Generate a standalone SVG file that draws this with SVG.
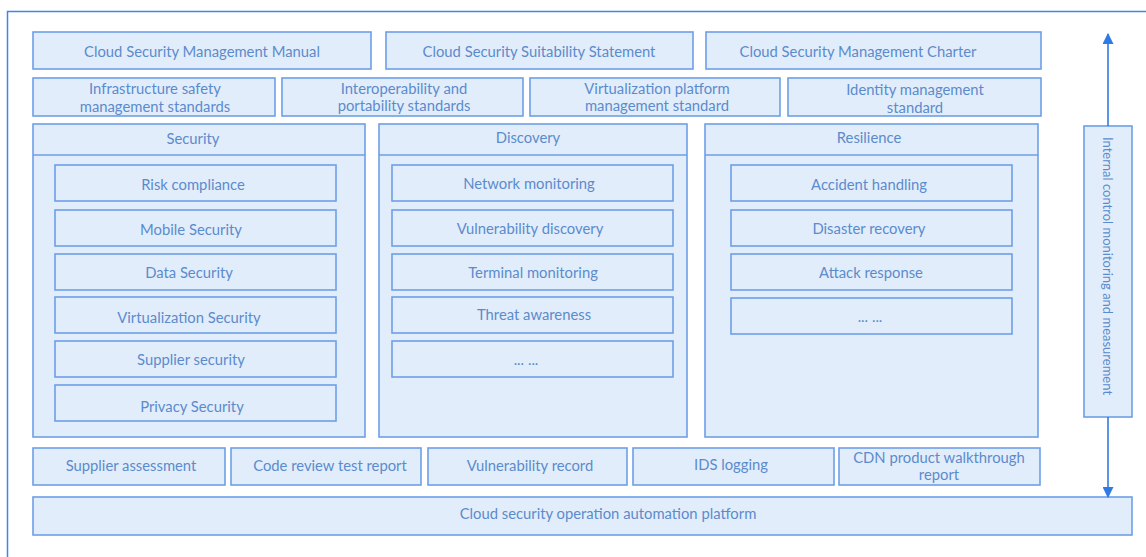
<svg xmlns="http://www.w3.org/2000/svg" width="1146" height="557" viewBox="0 0 1146 557">
<style>
.b{fill:#e2edfb;stroke:#6d9fe6;stroke-width:1.6}
.t{font-family:Lato,"Open Sans",sans-serif;font-size:14.8px;fill:#5b8bcc;text-anchor:middle;dominant-baseline:central}
.c{stroke:#2f7be6;stroke-width:1.6;fill:none}
</style>
<defs>
<marker id="ah" viewBox="0 0 10 10" refX="9" refY="5" markerWidth="11" markerHeight="11" markerUnits="userSpaceOnUse" orient="auto"><path d="M0,0 L10,5 L0,10 z" fill="#2f7be6"/></marker>
</defs>
<rect width="1146" height="557" fill="#ffffff"/>
<path d="M7.5,560 V11.5 H1150" fill="none" stroke="#3f86e6" stroke-width="1.5"/>

<g id="manual"><rect class="b" x="33" y="32" width="338" height="37"/><text class="t" x="202" y="51">Cloud Security Management Manual</text></g>
<g id="statement"><rect class="b" x="386" y="32" width="307" height="37"/><text class="t" x="539" y="51">Cloud Security Suitability Statement</text></g>
<g id="charter"><rect class="b" x="706" y="32" width="335" height="37"/><text class="t" x="858" y="51">Cloud Security Management Charter</text></g>

<g id="infra"><rect class="b" x="33" y="78" width="242" height="38"/><text class="t" x="155" y="88">Infrastructure safety</text><text class="t" x="155" y="106">management standards</text></g>
<g id="interop"><rect class="b" x="282" y="78" width="241" height="38"/><text class="t" x="404" y="88">Interoperability and</text><text class="t" x="404" y="105">portability standards</text></g>
<g id="virtstd"><rect class="b" x="530" y="78" width="250" height="38"/><text class="t" x="657" y="88">Virtualization platform</text><text class="t" x="657" y="105">management standard</text></g>
<g id="identity"><rect class="b" x="788" y="78" width="253" height="38"/><text class="t" x="915" y="89">Identity management</text><text class="t" x="915" y="107">standard</text></g>

<g id="security"><rect class="b" x="33" y="124" width="332" height="313"/><line x1="33" y1="155" x2="365" y2="155" stroke="#6d9fe6" stroke-width="1.6"/><text class="t" x="193" y="138">Security</text></g>
<g id="sec-risk"><rect class="b" x="55" y="165" width="281" height="36"/><text class="t" x="193" y="184">Risk compliance</text></g>
<g id="sec-mobile"><rect class="b" x="55" y="210" width="281" height="36"/><text class="t" x="191" y="229">Mobile Security</text></g>
<g id="sec-data"><rect class="b" x="55" y="254" width="281" height="36"/><text class="t" x="189" y="272">Data Security</text></g>
<g id="sec-virt"><rect class="b" x="55" y="297" width="281" height="36"/><text class="t" x="189" y="317">Virtualization Security</text></g>
<g id="sec-supp"><rect class="b" x="55" y="341" width="281" height="36"/><text class="t" x="191" y="359">Supplier security</text></g>
<g id="sec-priv"><rect class="b" x="55" y="385" width="281" height="36"/><text class="t" x="192" y="406">Privacy Security</text></g>

<g id="discovery"><rect class="b" x="379" y="124" width="308" height="313"/><line x1="379" y1="155" x2="687" y2="155" stroke="#6d9fe6" stroke-width="1.6"/><text class="t" x="528" y="137">Discovery</text></g>
<g id="dis-net"><rect class="b" x="392" y="165" width="281" height="36"/><text class="t" x="529" y="183">Network monitoring</text></g>
<g id="dis-vuln"><rect class="b" x="392" y="210" width="281" height="36"/><text class="t" x="530" y="228">Vulnerability discovery</text></g>
<g id="dis-term"><rect class="b" x="392" y="254" width="281" height="36"/><text class="t" x="533" y="272">Terminal monitoring</text></g>
<g id="dis-threat"><rect class="b" x="392" y="297" width="281" height="36"/><text class="t" x="534" y="314">Threat awareness</text></g>
<g id="dis-more"><rect class="b" x="392" y="341" width="281" height="36"/><text class="t" x="526" y="359">... ...</text></g>

<g id="resilience"><rect class="b" x="705" y="124" width="333" height="313"/><line x1="705" y1="155" x2="1038" y2="155" stroke="#6d9fe6" stroke-width="1.6"/><text class="t" x="869" y="137">Resilience</text></g>
<g id="res-acc"><rect class="b" x="731" y="165" width="281" height="36"/><text class="t" x="869" y="184">Accident handling</text></g>
<g id="res-dis"><rect class="b" x="731" y="210" width="281" height="36"/><text class="t" x="869" y="228">Disaster recovery</text></g>
<g id="res-att"><rect class="b" x="731" y="254" width="281" height="36"/><text class="t" x="871" y="272">Attack response</text></g>
<g id="res-more"><rect class="b" x="731" y="298" width="281" height="36"/><text class="t" x="870" y="316">... ...</text></g>

<g id="supplier-assess"><rect class="b" x="33" y="448" width="192" height="37"/><text class="t" x="131" y="465">Supplier assessment</text></g>
<g id="code-review"><rect class="b" x="231" y="448" width="190" height="37"/><text class="t" x="330" y="465">Code review test report</text></g>
<g id="vuln-record"><rect class="b" x="428" y="448" width="199" height="37"/><text class="t" x="530" y="465">Vulnerability record</text></g>
<g id="ids"><rect class="b" x="633" y="448" width="201" height="37"/><text class="t" x="731" y="464">IDS logging</text></g>
<g id="cdn"><rect class="b" x="839" y="448" width="201" height="37"/><text class="t" x="939" y="457">CDN product walkthrough</text><text class="t" x="939" y="474">report</text></g>

<g id="platform"><rect class="b" x="33" y="497" width="1099" height="38"/><text class="t" x="608" y="513">Cloud security operation automation platform</text></g>

<g id="internal"><rect class="b" x="1084" y="126" width="48" height="291"/><text class="t" transform="translate(1108,266) rotate(90)" x="0" y="0" style="font-size:13px">Internal control monitoring and measurement</text></g>

<g id="connectors">
<line class="c" x1="1108" y1="126" x2="1108" y2="34" marker-end="url(#ah)"/>
<line class="c" x1="1108" y1="417" x2="1108" y2="497" marker-end="url(#ah)"/>
</g>
</svg>
